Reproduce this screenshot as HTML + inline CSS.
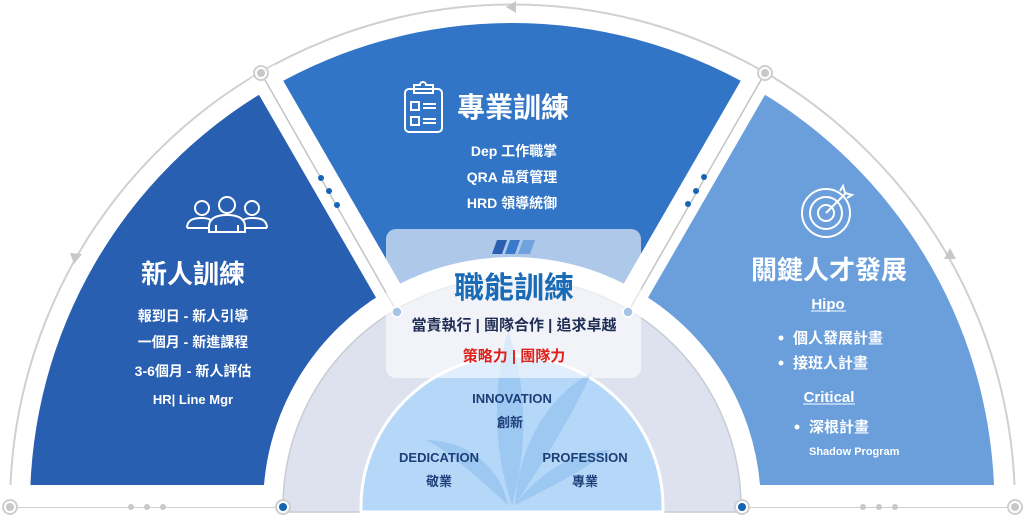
<!DOCTYPE html>
<html><head><meta charset="utf-8"><style>
html,body{margin:0;padding:0;background:#fff;width:1026px;height:529px;overflow:hidden;}
svg{display:block;}
text{font-family:"Liberation Sans","Noto Sans CJK TC",sans-serif;font-weight:bold;}
</style></head><body>
<svg width="1026" height="529" viewBox="0 0 1026 529" xmlns="http://www.w3.org/2000/svg">
<path d="M10 507 A502 502 0 0 1 1015 507" fill="none" stroke="#d0d0d0" stroke-width="2"/>
<line x1="10" y1="507" x2="1015" y2="507" stroke="#d0d0d0" stroke-width="2"/>
<polygon points="506,7 516,1 516,13" fill="#c8c8c8"/>
<polygon points="70,253 82,254 74,264" fill="#c8c8c8"/>
<polygon points="950,248 944,259 956,259" fill="#c8c8c8"/>
<path d="M30 485 L30 505 A482 482 0 0 1 271 87.6 L388 290.2 A248 248 0 0 0 264 485 Z" fill="#285fb0"/>
<path d="M271 87.6 A482 482 0 0 1 753 87.6 L636 290.2 A248 248 0 0 0 388 290.2 Z" fill="#3275c6"/>
<path d="M753 87.6 A482 482 0 0 1 994 485 L760 485 A248 248 0 0 0 636 290.2 Z" fill="#6a9fdc"/>
<line x1="412" y1="332" x2="262" y2="72" stroke="#fff" stroke-width="28"/>
<line x1="612" y1="332" x2="762" y2="72" stroke="#fff" stroke-width="28"/>
<rect x="0" y="485" width="300" height="22" fill="#fff"/>
<rect x="730" y="485" width="296" height="22" fill="#fff"/>
<path d="M283 512 L283 507 A229 229 0 0 1 741 507 L741 512 Z" fill="#dde2ee" stroke="#c8ccd6" stroke-width="1.5"/>
<path d="M361 512 L361 507 A151 151 0 0 1 663 507 L663 512 Z" fill="#b5d7f8" stroke="#fff" stroke-width="3"/>
<g fill="#98c6f2" opacity="0.85">
<path d="M512 505 C490 440 495 380 508 330 C525 380 530 440 512 505 Z"/>
<path d="M508 505 C470 470 440 445 425 440 C465 440 500 465 508 505 Z"/>
<path d="M515 505 C520 430 560 390 592 372 C575 410 545 460 515 505 Z"/>
<path d="M515 505 C540 470 580 450 610 450 C585 470 545 490 515 505 Z"/>
</g>
<line x1="397" y1="312" x2="261" y2="73" stroke="#c4c4c4" stroke-width="1.5"/>
<line x1="628" y1="312" x2="765" y2="73" stroke="#c4c4c4" stroke-width="1.5"/>
<rect x="386" y="229" width="255" height="149" rx="10" fill="#fff" fill-opacity="0.6"/>
<circle cx="397" cy="312" r="5" fill="#a7c4e6" stroke="#fff" stroke-width="1.5"/>
<circle cx="628" cy="312" r="5" fill="#a7c4e6" stroke="#fff" stroke-width="1.5"/>
<g fill="#fff" stroke="#cfcfcf" stroke-width="2">
<circle cx="10" cy="507" r="7"/><circle cx="261" cy="73" r="7"/><circle cx="765" cy="73" r="7"/><circle cx="1015" cy="507" r="7"/>
<circle cx="283" cy="507" r="7"/><circle cx="742" cy="507" r="7"/>
</g>
<g fill="#c8c8c8"><circle cx="10" cy="507" r="4"/><circle cx="261" cy="73" r="4"/><circle cx="765" cy="73" r="4"/><circle cx="1015" cy="507" r="4"/>
<circle cx="131" cy="507" r="3"/><circle cx="147" cy="507" r="3"/><circle cx="163" cy="507" r="3"/>
<circle cx="863" cy="507" r="3"/><circle cx="879" cy="507" r="3"/><circle cx="895" cy="507" r="3"/></g>
<g fill="#1565b5"><circle cx="283" cy="507" r="4"/><circle cx="742" cy="507" r="4"/>
<circle cx="321" cy="178" r="3"/><circle cx="329" cy="191" r="3"/><circle cx="337" cy="205" r="3"/>
<circle cx="704" cy="177" r="3"/><circle cx="696" cy="191" r="3"/><circle cx="688" cy="204" r="3"/></g>
<g fill="none" stroke="#fff" stroke-width="2">
<rect x="405" y="89" width="37" height="43" rx="4"/>
<path d="M414 89 V85 H420 A3 3 0 0 1 426 85 H433 V93 H414 Z"/>
<path d="M411 102 h8 v8 h-8 z M411 117 h8 v8 h-8 z"/>
<path d="M423 104 h13 M423 108 h13 M423 119 h13 M423 123 h13"/>
</g>
<text x="513" y="117" fill="#fff" font-size="28" text-anchor="middle">專業訓練</text>
<g fill="#fff" font-size="14" text-anchor="middle">
<text x="514" y="156">Dep 工作職掌</text>
<text x="512" y="182">QRA 品質管理</text>
<text x="512" y="208">HRD 領導統御</text>
</g>
<g fill="none" stroke="#fff" stroke-width="2">
<circle cx="202" cy="208" r="7"/><circle cx="227" cy="205" r="8"/><circle cx="252" cy="208" r="7"/>
<path d="M187 228 c0-8 6-10 15-10 c5 0 8 1 10 3"/>
<path d="M267 228 c0-8 -6-10 -15-10 c-5 0 -8 1 -10 3"/>
<path d="M187 228 h22 M245 228 h22"/>
<path d="M209 232 v-6 c0-8 8-11 18-11 s18 3 18 11 v6 z M216 232 v-7 M238 232 v-7"/>
</g>
<text x="193" y="283" fill="#fff" font-size="26" text-anchor="middle">新人訓練</text>
<g fill="#fff" font-size="14" text-anchor="middle">
<text x="193" y="321">報到日 - 新人引導</text>
<text x="193" y="347">一個月 - 新進課程</text>
<text x="193" y="376">3-6個月 - 新人評估</text>
<text x="193" y="404" font-size="13">HR| Line Mgr</text>
</g>
<g fill="none" stroke="#fff" stroke-width="2">
<circle cx="826" cy="213" r="24"/><circle cx="826" cy="213" r="16"/><circle cx="826" cy="213" r="8"/>
<path d="M826 213 L845 194 M840 191 l3 -5 l2 7 l7 2 l-5 3"/>
</g>
<text x="829" y="279" fill="#fff" font-size="26" text-anchor="middle">關鍵人才發展</text>
<g fill="#fff" font-size="15" text-anchor="middle">
<text x="828" y="309">Hipo</text>
<text x="829" y="402">Critical</text>
</g>
<line x1="811" y1="311" x2="846" y2="311" stroke="#fff" stroke-width="1"/>
<line x1="803" y1="404" x2="855" y2="404" stroke="#fff" stroke-width="1"/>
<g fill="#fff" font-size="15">
<circle cx="781" cy="338" r="2.5"/><text x="793" y="343">個人發展計畫</text>
<circle cx="781" cy="363" r="2.5"/><text x="793" y="368">接班人計畫</text>
<circle cx="797" cy="427" r="2.5"/><text x="809" y="432">深根計畫</text>
<text x="809" y="455" font-size="11" font-weight="normal">Shadow Program</text>
</g>
<polygon points="497,240 507,240 502,254 492,254" fill="#2a5fb0"/>
<polygon points="510,240 520,240 515,254 505,254" fill="#3a7acc"/>
<polygon points="523,240 535,240 530,254 518,254" fill="#6fa2de"/>
<text x="514" y="298" fill="#1a6bb5" font-size="30" text-anchor="middle">職能訓練</text>
<text x="514" y="330" fill="#1f2d55" font-size="15" text-anchor="middle">當責執行 | 團隊合作 | 追求卓越</text>
<text x="514" y="361" fill="#e0201a" font-size="15" text-anchor="middle">策略力 | 團隊力</text>
<g fill="#1e3e78" font-size="13" text-anchor="middle">
<text x="512" y="403">INNOVATION</text><text x="510" y="427">創新</text>
<text x="439" y="462">DEDICATION</text><text x="439" y="486">敬業</text>
<text x="585" y="462">PROFESSION</text><text x="585" y="486">專業</text>
</g>
</svg>
</body></html>
